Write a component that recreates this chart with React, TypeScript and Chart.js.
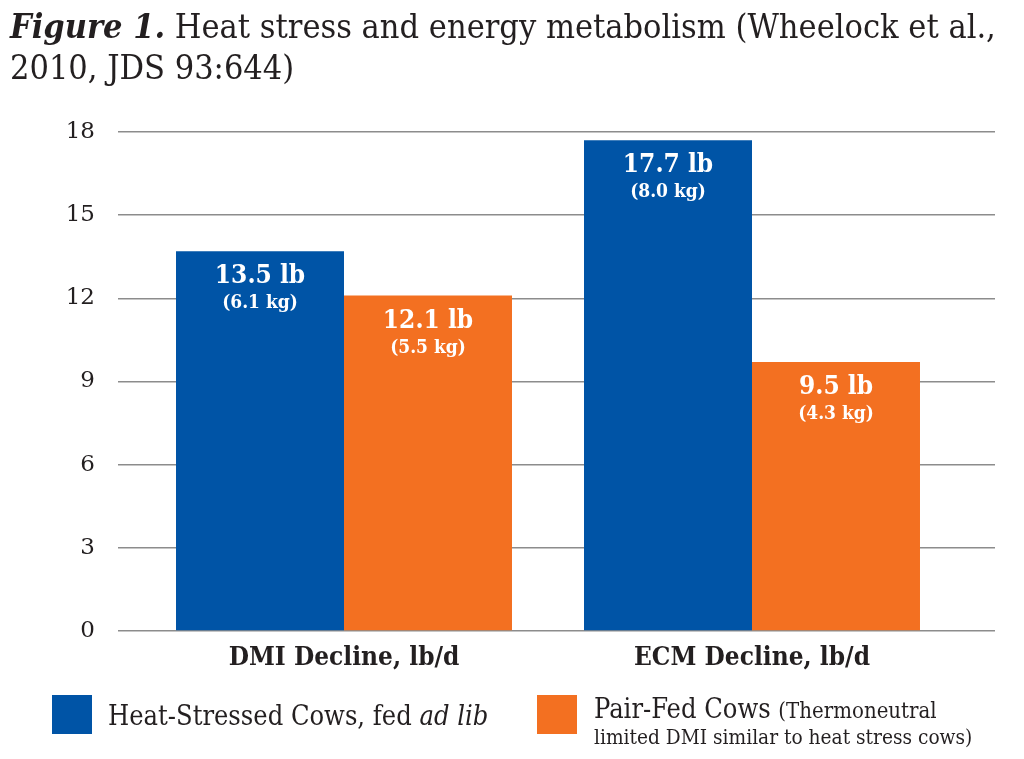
import { useEffect, useRef } from 'react';
import Chart from 'chart.js/auto';

const FONT = "'DejaVu Serif Condensed', 'DejaVu Serif', serif";
const TICK_FONT = "'DejaVu Serif', serif";
const TEXT = '#231f20';
const BLUE = '#0054a6';
const ORANGE = '#f37021';

const categories = ['DMI Decline, lb/d', 'ECM Decline, lb/d'];
const heatStressed = [13.7, 17.7];
const pairFed = [12.1, 9.7];
const heatLbLabels = ['13.5 lb', '17.7 lb'];
const heatKgLabels = ['(6.1 kg)', '(8.0 kg)'];
const pairLbLabels = ['12.1 lb', '9.5 lb'];
const pairKgLabels = ['(5.5 kg)', '(4.3 kg)'];
const yMax = 18;
const yStep = 3;

const barLabels = {
  id: 'barLabels',
  afterDatasetsDraw(chart: any) {
    const ctx = chart.ctx;
    const texts = [
      [heatLbLabels, heatKgLabels],
      [pairLbLabels, pairKgLabels],
    ];
    ctx.save();
    ctx.fillStyle = '#ffffff';
    ctx.textAlign = 'center';
    ctx.textBaseline = 'alphabetic';
    chart.data.datasets.forEach((_: any, di: number) => {
      const meta = chart.getDatasetMeta(di);
      meta.data.forEach((bar: any, i: number) => {
        ctx.font = `bold 26px ${FONT}`;
        ctx.fillText(texts[di][0][i], bar.x, bar.y + 32);
        ctx.font = `bold 19px ${FONT}`;
        ctx.fillText(texts[di][1][i], bar.x, bar.y + 57);
      });
    });
    ctx.restore();
  },
};

export default function App() {
  const canvasRef = useRef<HTMLCanvasElement | null>(null);
  const chartRef = useRef<Chart | null>(null);

  useEffect(() => {
    document.body.style.margin = '0';
    if (!canvasRef.current) return;
    const ctx = canvasRef.current.getContext('2d');
    if (!ctx) return;
    if (chartRef.current) chartRef.current.destroy();

    chartRef.current = new Chart(ctx, {
      type: 'bar',
      data: {
        labels: categories,
        datasets: [
          {
            label: 'Heat-Stressed Cows, fed ad lib',
            data: heatStressed,
            backgroundColor: BLUE,
            borderWidth: 0,
            yAxisID: 'y',
          },
          {
            label: 'Pair-Fed Cows',
            data: pairFed,
            backgroundColor: ORANGE,
            borderWidth: 0,
            yAxisID: 'y',
          },
        ],
      },
      options: {
        responsive: false,
        animation: false,
        devicePixelRatio: 1,
        layout: { padding: { top: 132, left: 0, right: 0, bottom: 0 } },
        datasets: {
          bar: { categoryPercentage: 0.8235, barPercentage: 1.0 },
        },
        plugins: {
          legend: { display: false },
          tooltip: { enabled: false },
        },
        scales: {
          x: {
            grid: { display: false, drawTicks: false },
            border: { display: false },
            ticks: {
              color: TEXT,
              padding: 12,
              font: { family: FONT, size: 26, weight: 'bold' },
            },
            afterFit: (scale: any) => {
              scale.height = 128;
            },
          },
          y: {
            min: 0,
            max: yMax,
            position: 'left',
            border: { display: false },
            grid: { color: '#8c8c8c', lineWidth: 1.5, drawTicks: true, tickLength: 22 },
            ticks: {
              stepSize: yStep,
              color: TEXT,
              padding: 23,
              font: { family: TICK_FONT, size: 23 },
            },
            afterFit: (scale: any) => {
              scale.width = 140;
            },
          },
          y2: {
            min: 0,
            max: yMax,
            position: 'right',
            border: { display: false },
            grid: { color: '#8c8c8c', lineWidth: 1.5, drawOnChartArea: false, drawTicks: true, tickLength: 39 },
            ticks: { stepSize: yStep, display: false },
            afterFit: (scale: any) => {
              scale.width = 68;
            },
          },
        },
      },
      plugins: [barLabels],
    });

    return () => {
      if (chartRef.current) {
        chartRef.current.destroy();
        chartRef.current = null;
      }
    };
  }, []);

  return (
    <div style={{ position: 'relative', width: 1024, height: 759, background: '#fff', fontFamily: FONT, color: TEXT, overflow: 'hidden' }}>
      <canvas ref={canvasRef} width={1024} height={759} style={{ position: 'absolute', left: 0, top: 0 }} />
      <div style={{ position: 'absolute', left: 10, top: 6, fontSize: 34, lineHeight: '41px', whiteSpace: 'nowrap' }}>
        <b><i>Figure 1.</i></b> Heat stress and energy metabolism (Wheelock et al.,
        <br />
        2010, JDS 93:644)
      </div>
      <div style={{ position: 'absolute', left: 52, top: 695, width: 40, height: 39, background: BLUE }} />
      <div style={{ position: 'absolute', left: 108, top: 700, fontSize: 27, lineHeight: '32px', whiteSpace: 'nowrap' }}>
        Heat-Stressed Cows, fed <i>ad lib</i>
      </div>
      <div style={{ position: 'absolute', left: 537, top: 695, width: 40, height: 39, background: ORANGE }} />
      <div style={{ position: 'absolute', left: 594, top: 694, whiteSpace: 'nowrap' }}>
        <div style={{ fontSize: 27, lineHeight: '30px' }}>
          Pair-Fed Cows <span style={{ fontSize: 22 }}>(Thermoneutral</span>
        </div>
        <div style={{ fontSize: 20.7, lineHeight: '23px' }}>limited DMI similar to heat stress cows)</div>
      </div>
    </div>
  );
}
